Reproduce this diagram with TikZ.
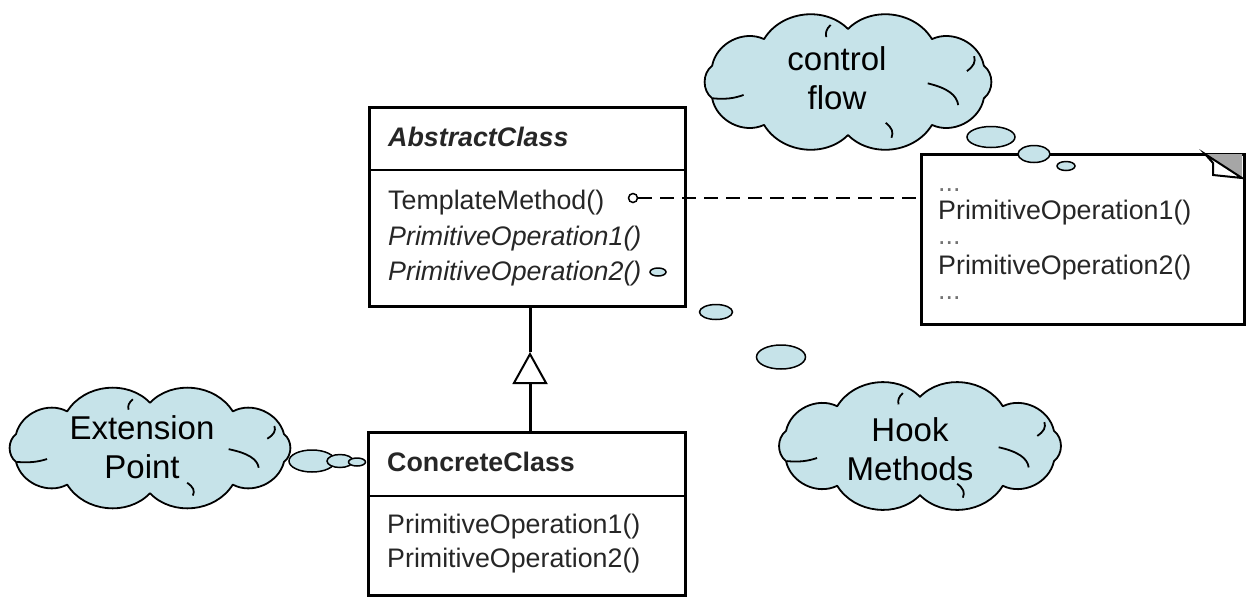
\documentclass[tikz,border=0pt]{standalone}
\usepackage{fontspec}
\setmainfont{Liberation Sans}
\usetikzlibrary{shapes.geometric,arrows.meta,calc}
\definecolor{cloudblue}{RGB}{198,227,233}
% cloud: #1 centre name, #2 half width, #3 half height
\newcommand{\cloudshape}[3]{%
  \begin{scope}[shift={(#1)}]
    \pgfmathsetmacro{\ca}{#2*0.985}\pgfmathsetmacro{\cb}{#3*0.78}
    \draw[cloudpath] ({\ca*cos(18)},{\cb*sin(18)})
      \foreach \k in {1,...,10}{ to[bend left=52] ({\ca*cos(18+36*\k)},{\cb*sin(18+36*\k)}) } -- cycle;
  \end{scope}
  \begin{scope}[shift={(#1)}, xscale=#2, yscale=#3]
    \draw[innerarc] (-0.93,0.24) to[bend right=25] (-0.72,0.19);
    \draw[innerarc] (0.55,0.02) to[bend left=30] (0.76,0.34);
    \draw[innerarc] (0.82,-0.16) to[bend right=20] (0.87,-0.38);
    \draw[innerarc] (0.26,0.60) to[bend left=20] (0.30,0.82);
    \draw[innerarc] (-0.15,-0.66) to[bend left=15] (-0.12,-0.84);
  \end{scope}}
\begin{document}
\begin{tikzpicture}[x=1pt,y=-1pt,
  cls/.style={draw, line width=3pt, anchor=north west, inner sep=0pt},
  txt/.style={anchor=base west, inner sep=0pt, font=\fontsize{26.8}{30}\selectfont, text=black!85},
  dots/.style={anchor=base west, inner sep=0pt, font=\fontsize{26.8}{30}\selectfont, text=black!55},
  cloudpath/.style={draw, line width=1.8pt, fill=cloudblue, line join=round},
  cloudtxt/.style={align=center, font=\fontsize{33}{39}\selectfont, inner sep=0pt},
  bubble/.style={ellipse, draw, line width=1.5pt, fill=cloudblue, inner sep=0pt},
  innerarc/.style={line width=1.8pt},
]
\useasboundingbox (0,0) rectangle (1258,606);

% ---------- AbstractClass ----------
\node[cls, minimum width=316pt, minimum height=199pt] (abs) at (368,106) {};
\draw[line width=2.2pt] ([yshift=-64pt]abs.north west) -- ([yshift=-64pt]abs.north east);
\node[txt, font=\fontsize{26.8}{30}\selectfont\bfseries\itshape] (absname) at (388,146) {AbstractClass};
\node[txt] (tm) at (388,209) {TemplateMethod()};
\node[txt, font=\fontsize{26.8}{30}\selectfont\itshape] (po1) at (388,245) {PrimitiveOperation1()};
\node[txt, font=\fontsize{26.8}{30}\selectfont\itshape] (po2) at (388,280) {PrimitiveOperation2()};

% ---------- ConcreteClass ----------
\node[cls, minimum width=317pt, minimum height=163pt] (con) at (367,431) {};
\draw[line width=2.2pt] ([yshift=-65pt]con.north west) -- ([yshift=-65pt]con.north east);
\node[txt, font=\fontsize{26.8}{30}\selectfont\bfseries] (conname) at (387,471) {ConcreteClass};
\node[txt] (cpo1) at (387,533) {PrimitiveOperation1()};
\node[txt] (cpo2) at (387,567) {PrimitiveOperation2()};

% ---------- inheritance ----------
\coordinate (tip) at (530,352);
\draw[line width=3pt, -{Triangle[open, width=35pt, length=32pt, line width=2pt]}] (con.north -| tip) -- (tip);
\draw[line width=3pt] (tip) -- (abs.south -| tip);

% ---------- note ----------
\node[cls, minimum width=323pt, minimum height=170pt] (note) at (920,153) {};
\fill[black!35] (1205,154) -- (1242,154) -- (1242,178) -- cycle;
\draw[line width=2pt, fill=white] (1205,154) -- (1213,163) -- (1213,175) -- (1242,178) -- cycle;
\node[dots] (nd1) at (938,191) {...};
\node[txt] (nop1) at (938,219) {PrimitiveOperation1()};
\node[dots] (nd2) at (938,244) {...};
\node[txt] (nop2) at (938,274) {PrimitiveOperation2()};
\node[dots] (nd3) at (938,299) {...};

% ---------- dashed connector ----------
\node[circle, draw, line width=1.5pt, fill=white, minimum size=9pt, inner sep=0pt] (tmc) at (633,198) {};
\draw[line width=2.6pt, dash pattern=on 14pt off 8pt] (tmc.east) -- (tmc.east -| note.west);
\node[bubble, minimum width=16pt, minimum height=8pt] (hk0) at (658,272) {};

% ---------- clouds ----------
\coordinate (cf) at (848,82);
\cloudshape{cf}{145}{68}
\node[cloudtxt] (cftext) at (837,78) {control\\flow};
\node[bubble, minimum width=48pt, minimum height=21pt] (cf1) at (991,137) {};
\node[bubble, minimum width=32pt, minimum height=17pt] (cf2) at (1034,154) {};
\node[bubble, minimum width=18pt, minimum height=9pt] (cf3) at (1066,166) {};

\coordinate (ep) at (150,448);
\cloudshape{ep}{143}{58}
\node[cloudtxt] (eptext) at (142,447) {Extension\\Point};
\node[bubble, minimum width=46pt, minimum height=22pt] (ep1) at (312,461) {};
\node[bubble, minimum width=26pt, minimum height=13pt] (ep2) at (340,461) {};
\node[bubble, minimum width=17pt, minimum height=8pt] (ep3) at (357,462) {};

\coordinate (hm) at (920,446);
\cloudshape{hm}{143}{63}
\node[cloudtxt] (hmtext) at (910,449) {Hook\\Methods};
\node[bubble, minimum width=33pt, minimum height=15pt] (hm1) at (716,312) {};
\node[bubble, minimum width=49pt, minimum height=24pt] (hm2) at (781,357) {};
\end{tikzpicture}
\end{document}
